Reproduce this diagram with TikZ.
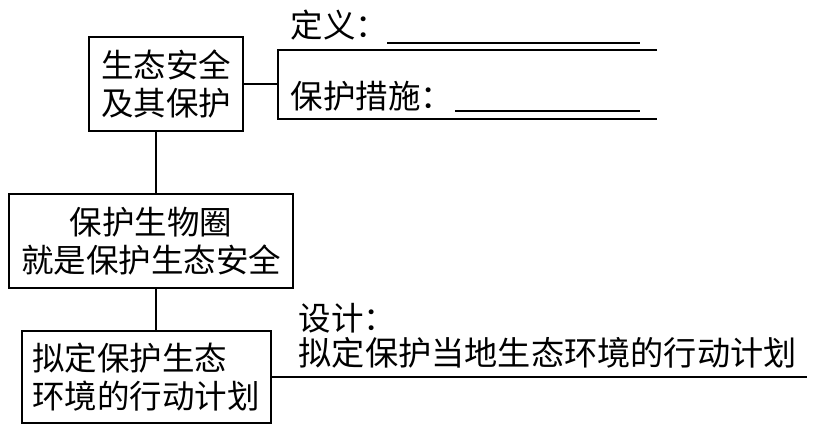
\documentclass[tikz,border=0pt]{standalone}
\usepackage{fontspec}
\setmainfont{Noto Sans CJK SC}
\usetikzlibrary{positioning}

\begin{document}
\begin{tikzpicture}[x=1pt, y=-1pt, line width=1.3pt,
    box/.style={draw, inner sep=0pt, font=\fontsize{32.5}{38.5}\selectfont},
    label/.style={anchor=west, inner sep=0pt, font=\fontsize{32.5}{38.5}\selectfont}]
    \useasboundingbox (0, 0) rectangle (838, 431);

    \node[box, minimum width=154pt, minimum height=94pt, align=center] (safety) at (166, 84) {生态安全\\及其保护};
    \node[box, minimum width=284pt, minimum height=94pt, align=center] (biosphere) at (151, 241) {保护生物圈\\就是保护生态安全};
    \node[box, minimum width=249pt, minimum height=92pt, align=left, text width=229pt] (plan) at (146.5, 377) {拟定保护生态\\环境的行动计划};

    \coordinate (spine) at (156, 0);
    \coordinate (brace) at (278, 84);
    \coordinate (bracetop) at (278, 50);
    \coordinate (bracebot) at (278, 119);
    \coordinate (topend) at (657, 50);
    \coordinate (botend) at (657, 119);
    \coordinate (planend) at (807, 377);

    \node[label] (define) at (290, 25) {定义：};
    \node[label] (measure) at (290, 96) {保护措施：};
    \node[label] (design) at (298, 318) {设计：};
    \node[label, font=\fontsize{33.2}{38.5}\selectfont] (designtext) at (298, 353) {拟定保护当地生态环境的行动计划};

    \coordinate (blank1a) at (387, 43);
    \coordinate (blank1b) at (640, 43);
    \coordinate (blank2a) at (455, 111);
    \coordinate (blank2b) at (640, 111);

    \draw (safety.south -| spine) -- (biosphere.north -| spine);
    \draw (biosphere.south -| spine) -- (plan.north -| spine);
    \draw (safety.east |- brace) -- (brace);
    \draw (topend) -- (bracetop) -- (bracebot) -- (botend);
    \draw (blank1a) -- (blank1b);
    \draw (blank2a) -- (blank2b);
    \draw (plan.east |- planend) -- (planend);
\end{tikzpicture}
\end{document}
